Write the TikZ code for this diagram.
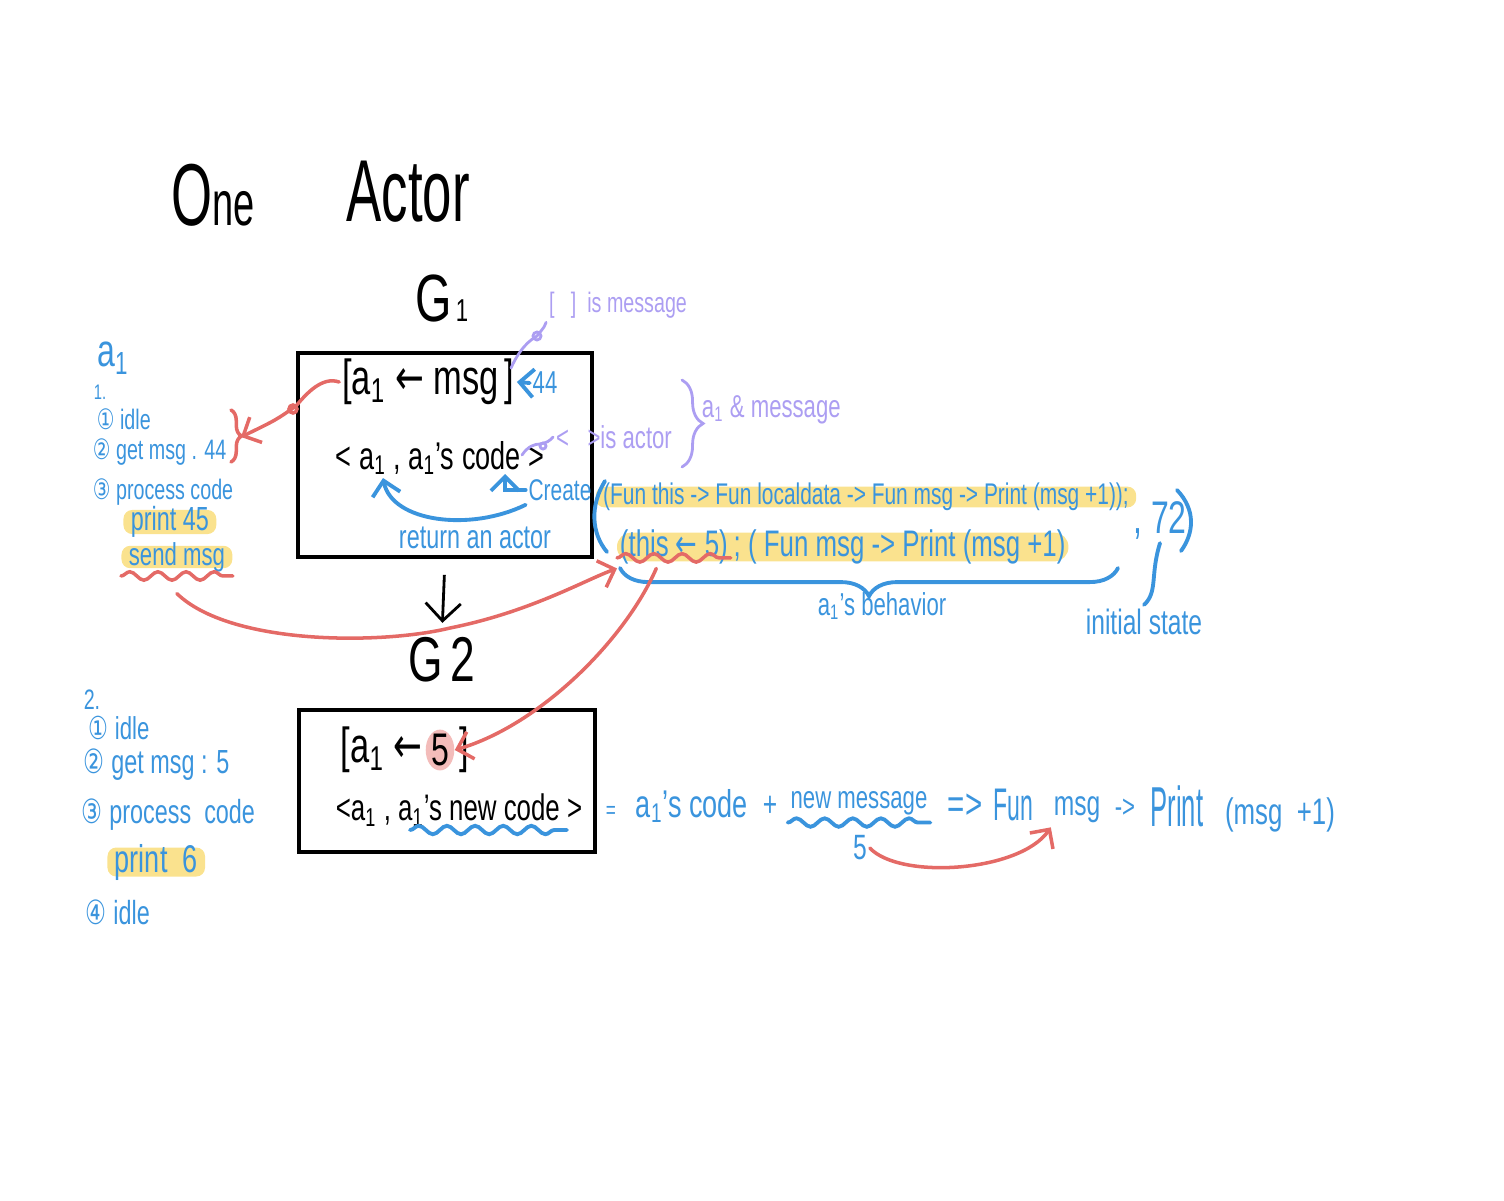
\documentclass[tikz,border=0pt]{standalone}
\usepackage{fontspec}
\setmainfont{Liberation Sans}
\newfontfamily\symfont{DejaVu Sans}
\usetikzlibrary{positioning,arrows.meta,decorations.pathmorphing,decorations.pathreplacing,backgrounds}

\definecolor{penblue}{RGB}{58,148,221}
\definecolor{penred}{RGB}{228,106,102}
\definecolor{penviolet}{RGB}{172,158,242}
\definecolor{hlyellow}{RGB}{250,226,142}
\definecolor{hlpink}{RGB}{243,188,186}

\newcommand{\aone}{a\textsubscript{1}}
\newcommand{\symb}[1]{{\symfont #1}}
\newcommand{\fsz}[1]{\fontsize{#1}{#1}\selectfont}

\tikzset{
  hand/.style={inner sep=1pt, xscale=0.7, transform shape},
  ink/.style={hand, text=black},
  pen/.style={hand, text=penblue},
  aside/.style={hand, text=penviolet},
  title/.style={inner sep=0pt, xscale=0.6, transform shape, font=\fsz{25}},
  hl/.style={fill=hlyellow, rounded corners=2.5pt, inner xsep=3pt, inner ysep=-1pt},
  boxframe/.style={draw, line width=1.1pt, inner sep=0pt},
  blue stroke/.style={draw=penblue, line width=1.1pt, line cap=round},
  red stroke/.style={draw=penred, line width=1pt, line cap=round},
  violet stroke/.style={draw=penviolet, line width=0.8pt, line cap=round},
  wave/.style={decorate, decoration={snake, amplitude=1.2pt, segment length=8pt}},
  curly/.style={decorate, decoration={brace, amplitude=#1}},
  barb/.style={-{Straight Barb[length=4pt]}},
}

\begin{document}
\begin{tikzpicture}[x=0.01cm, y=-0.01cm]
\useasboundingbox (0,0) rectangle (1504,1200);

\node[title] (one) at (213,195) {O{\fsz{18}ne}};
\node[title] (actor) at (408,192) {Actor};

% first state
\node[ink, font=\fsz{19}] (g1) at (442,298) {G{\fsz{9}\,1}};
\node[boxframe, minimum width=2.94cm, minimum height=2.04cm] (box1) at (445,455) {};
\node[ink, font=\fsz{14}] (msg1) at (428,382) {[\aone\ \symb{←} msg\,]};
\node[pen, font=\fsz{9}] (n44) at (545,383) {44};
\node[ink, font=\fsz{11}] (code1) at (440,458) {< \aone\ , \aone's code >};
\coordinate (codea) at (383,478);
\coordinate (codee) at (505,474);
\node[pen, font=\fsz{8.5}] (create) at (560,490) {Create};
\node[pen, font=\fsz{9.5}] (ret) at (475,538) {return an actor};
\draw[blue stroke, barb] (n44.west) -- (msg1.east);
\draw[blue stroke, barb] (create.west) -| (codee);
\draw[blue stroke, barb] (create.south west) .. controls (470,532) and (392,522) .. (codea);

\node[aside, font=\fsz{8}] (ismsg) at (618,305) {[\ \ \ ]\ \ is message};
\node[aside, font=\fsz{9}] (isactor) at (614,437) {<\ \ \ >is actor};
\draw[violet stroke] (511,368) .. controls (520,348) and (530,340) .. (537,336) .. controls (545,326) .. (ismsg.south west);
\draw[violet stroke] (537,336) circle[radius=4];
\draw[violet stroke] (522,455) .. controls (528,446) and (535,444) .. (540,444) .. controls (548,442) .. (isactor.west);
\draw[violet stroke] (543,446) circle[radius=3];
\draw[violet stroke, curly=6pt] (682,380) -- (682,467);
\node[aside, font=\fsz{9}, anchor=west] (amp) at (699,410) {\aone\ \& message};

\node[pen, hl, font=\fsz{8.5}] (row1) at (866,497) {(Fun this -> Fun localdata -> Fun msg -> Print (msg +1));};
\node[pen, font=\fsz{10.5}, anchor=west] (this5) at (617,547) {(this \symb{←} 5)};
\node[pen, font=\fsz{10.5}, anchor=west] (behave) at (this5.east) {; ( Fun msg -> Print (msg +1)};
\begin{scope}[on background layer]
\fill[hlyellow, rounded corners=4pt] ([yshift=2pt]this5.south west) rectangle ([yshift=-2pt]behave.north east);
\end{scope}
\node[pen, font=\fsz{13}] (n72) at (1160,520) {, 72};
\draw[blue stroke] (605,481) .. controls (590,505) and (591,533) .. (607,552);
\draw[blue stroke] (1177,490) .. controls (1196,510) and (1194,533) .. (1181,551);
\draw[blue stroke, curly=8pt] (1118,568) -- (620,568);
\node[pen, font=\fsz{9}] (behavior) at (882,606) {\aone's behavior};
\node[pen, font=\fsz{10}] (init) at (1144,622) {initial state};
\draw[blue stroke] (n72.south) .. controls (1150,575) and (1158,592) .. (init.north);
\draw[red stroke, wave] ([yshift=3pt]this5.south west) -- ([yshift=3pt]this5.south east);

% actor a1, first run
\node[pen, font=\fsz{13}] (aname) at (113,358) {\aone};
\node[pen, font=\fsz{6}] (step1) at (100,392) {1.};
\node[pen, font=\fsz{8}, anchor=west] (idle1) at (94,419) {\symb{①} idle};
\node[pen, font=\fsz{8}, anchor=west] (get1) at (90,452) {\symb{②} get msg . 44};
\node[pen, font=\fsz{8}, anchor=west] (proc1) at (90,492) {\symb{③} process code};
\node[pen, hl, font=\fsz{9.5}, anchor=west] (print1) at (123,522) {print 45};
\node[pen, hl, font=\fsz{9}, anchor=west] (send1) at (121,557) {send msg};
\draw[red stroke, wave] ([yshift=-2pt]send1.south west) -- ([yshift=-2pt]send1.south east);
\coordinate (ack) at (241,437);
\draw[red stroke, curly=3pt] (231,410) -- (231,462);
\draw[red stroke, barb] (msg1.west) .. controls (322,376) and (306,394) .. (296,406) .. controls (276,420) .. (ack);
\draw[red stroke] (293,409) circle[radius=4];
\draw[red stroke, barb] ([yshift=-7pt]send1.south) .. controls (230,645) and (380,645) .. (450,628) .. controls (530,612) and (585,580) .. (this5.south west);

% second state
\node[ink, font=\fsz{18}] (g2) at (442,660) {G\,2};
\draw[line width=0.8pt, -{Straight Barb[length=5pt]}, shorten <=4.5pt, shorten >=3pt] (box1.south) -- (g2.north);
\node[boxframe, minimum width=2.95cm, minimum height=1.42cm] (box2) at (447,781) {};
\node[ink, font=\fsz{14}, anchor=west] (msg2) at (338,750) {[\aone\ \symb{←}};
\node[ink, circle, fill=hlpink, inner sep=0pt, minimum size=9.7pt, font=\fsz{13}] (five) at (440,750) {5};
\node[ink, font=\fsz{14}] (close2) at (464,750) {]};
\node[ink, font=\fsz{10.5}] (code2) at (459,810) {<\aone\ , \aone's new code >};
\draw[blue stroke, wave] (410,830) -- (567,830);
\draw[red stroke, barb] ([xshift=-5pt]this5.south) .. controls (625,640) and (540,725) .. (five.east);

\node[pen, font=\fsz{7}] (eq) at (611,812) {=};
\node[pen, font=\fsz{11}] (oldcode) at (692,806) {\aone's code};
\node[pen, font=\fsz{10}] (plus) at (770,806) {+};
\node[pen, font=\fsz{9}] (newmsg) at (859,803) {new message};
\node[pen, font=\fsz{12}] (imp) at (965,806) {=>};
\node[pen, font=\fsz{13}, xscale=0.72] (fun) at (1013,805) {Fun};
\node[pen, font=\fsz{10}] (msgv) at (1077,810) {msg};
\node[pen, font=\fsz{9}] (to) at (1125,808) {->};
\node[pen, font=\fsz{16}, xscale=0.65] (print) at (1177,806) {Print};
\node[pen, font=\fsz{10.5}] (arg) at (1280,815) {(msg\ \ +1)};
\draw[blue stroke, wave] ([yshift=-1pt]newmsg.south west) -- ([yshift=-1pt]newmsg.south east);
\node[pen, font=\fsz{10}] (five2) at (860,848) {5};
\draw[red stroke, barb] (five2.east) .. controls (900,880) and (1020,872) .. (msgv.south west);

% actor a1, second run
\node[pen, font=\fsz{8}] (step2) at (92,700) {2.};
\node[pen, font=\fsz{9}, anchor=west] (idle2) at (86,728) {\symb{①} idle};
\node[pen, font=\fsz{9.5}, anchor=west] (get2) at (81,765) {\symb{②} get msg : 5};
\node[pen, font=\fsz{9.5}, anchor=west] (proc2) at (79,815) {\symb{③} process\ \ code};
\node[pen, hl, font=\fsz{11}, anchor=west] (print2) at (107,862) {print\ \ 6};
\node[pen, font=\fsz{9.5}, anchor=west] (idle3) at (83,912) {\symb{④} idle};
\end{tikzpicture}
\end{document}
